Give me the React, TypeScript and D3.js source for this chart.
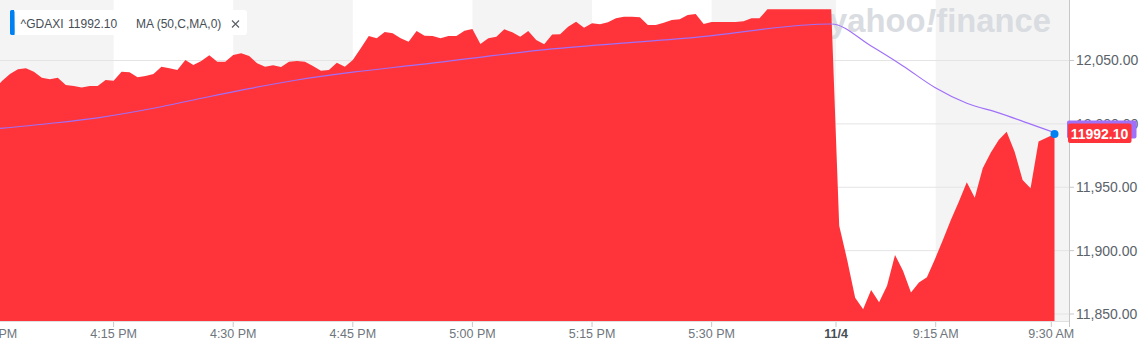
import * as d3 from 'd3';

// ^GDAXI closes, one point per minute-slot (3 Nov afternoon, then 4 Nov morning)
const pmCloses = [
  12026.7, 12033.8, 12039.4, 12043.1, 12043.8, 12041.2, 12036.4, 12035.2, 12036.4, 12030.7,
  12029.9, 12028.6, 12029.9, 12029.9, 12034.6, 12034.1, 12041.2, 12040.7, 12036.8, 12037.8,
  12039.4, 12045.1, 12043.8, 12042.5, 12050.4, 12046.5, 12049.6, 12054.1, 12049.1, 12049.1,
  12054.3, 12055.7, 12053.5, 12047.8, 12045.1, 12046.2, 12044.9, 12049.1, 12049.6, 12049.1,
  12045.7, 12042.0, 12042.5, 12048.3, 12045.1, 12050.4, 12059.6, 12069.3, 12067.5, 12072.5,
  12071.5, 12067.5, 12064.8, 12073.3, 12069.6, 12069.3, 12067.5, 12069.3, 12069.3, 12073.5,
  12074.8, 12063.0, 12067.5, 12068.8, 12074.6, 12072.2, 12068.8, 12073.3, 12066.2, 12062.8,
  12070.5, 12070.7, 12076.7, 12080.6, 12075.9, 12079.3, 12078.6, 12080.1, 12083.3, 12084.5,
  12084.5, 12084.1, 12078.0, 12078.0, 12079.8, 12081.9, 12082.5, 12085.9, 12086.7, 12078.8,
  12080.4, 12080.4, 12080.4, 12080.4, 12080.9, 12083.3, 12083.3, 12090.4, 12090.4, 12090.4,
  12090.4, 12090.4, 12090.4, 12090.4, 12090.4, 12090.4,
];
const amCloses = [
  11919.7, 11892.7, 11862.9, 11853.8, 11869.0, 11859.3, 11872.2, 11896.6, 11884.2, 11866.9,
  11874.8, 11879.0, 11893.2, 11908.4, 11924.2, 11938.6, 11953.9, 11941.8, 11965.0, 11977.3,
  11987.3, 11993.8, 11978.1, 11955.8, 11949.2, 11986.0, 11989.1, 11992.1,
];

// MA (50) read at a few slots
const maSlots = [0, 7, 13, 20, 26, 32, 38, 45, 53, 70, 88, 105, 110, 114, 118, 122, 126, 130, 133];
const maValues = [
  11996.0, 12000.3, 12004.8, 12012.3, 12020.2, 12027.8, 12034.6, 12040.8, 12046.5, 12059.1,
  12068.3, 12078.8, 12061.4, 12045.7, 12028.7, 12016.3, 12008.7, 11999.8, 11993.1,
];

const xTickSlots = [0, 15, 30, 45, 60, 75, 90, 105.6, 118.1, 132.6];
const xTickLabels = ['4:00 PM', '4:15 PM', '4:30 PM', '4:45 PM', '5:00 PM', '5:15 PM', '5:30 PM', '11/4', '9:15 AM', '9:30 AM'];
const yTicks = [11850, 11900, 11950, 12000, 12050];

const lastPrice = 11992.1;

const W = 1141;
const H = 351;
const plotRight = 1069;
const plotBottom = 321;
const font = '"Liberation Sans", Arial, sans-serif';

export default function App() {
  const closes = [...pmCloses, ...amCloses];
  const points = closes.map((v, i) => ({ i, v }));
  const ma = maSlots.map((s, k) => ({ i: s, v: maValues[k] }));

  const x = d3.scaleLinear().domain([0, closes.length - 1]).range([-6, 1054.5]);
  const y = d3.scaleLinear().domain([11850, 12050]).range([314, 60.5]);

  const area = d3.area<{ i: number; v: number }>()
    .x(d => x(d.i))
    .y0(plotBottom)
    .y1(d => y(d.v));

  const maLine = d3.line<{ i: number; v: number }>()
    .x(d => x(d.i))
    .y(d => y(d.v))
    .curve(d3.curveMonotoneX);

  const fmt = d3.format(',.2f');

  // alternating background bands between time ticks, the last one runs to the edge
  const bands: [number, number][] = [];
  for (let k = 0; k < xTickSlots.length - 1; k += 2) {
    const x0 = Math.max(0, x(xTickSlots[k]));
    const x1 = k + 2 >= xTickSlots.length - 1 ? plotRight : x(xTickSlots[k + 1]);
    bands.push([x0, x1]);
  }

  const lastX = x(closes.length - 1);
  const lastY = y(lastPrice);

  return (
    <svg width={W} height={H} style={{ position: 'absolute', left: 0, top: 0, background: '#fff' }} fontFamily={font}>
      <defs>
        <clipPath id="plot">
          <rect x={0} y={0} width={plotRight} height={plotBottom} />
        </clipPath>
      </defs>

      {bands.map(([a, b], k) => (
        <rect key={k} x={a} y={0} width={b - a} height={plotBottom} fill="#f4f4f4" />
      ))}

      {yTicks.map(t => (
        <line key={t} x1={0} x2={plotRight} y1={y(t)} y2={y(t)} stroke="#e4e4e4" strokeWidth={1} />
      ))}

      <text x={829} y={31.5} fontSize={33} fontWeight={700} fill="#d9dce1" textLength={222} lengthAdjust="spacingAndGlyphs">
        yahoo<tspan fontStyle="italic">!</tspan>finance
      </text>

      <g clipPath="url(#plot)">
        <path d={area(points) || ''} fill="#ff333a" />
        <path d={maLine(ma) || ''} fill="none" stroke="#a070f8" strokeWidth={1.2} />
      </g>

      {/* x axis */}
      <line x1={0} x2={plotRight} y1={plotBottom + 0.5} y2={plotBottom + 0.5} stroke="#e0e0e0" />
      {xTickSlots.map((s, k) => (
        <g key={k} transform={`translate(${x(s)},0)`}>
          <line y1={plotBottom + 1} y2={plotBottom + 6} stroke="#c8c8c8" />
          <text
            y={337.5}
            textAnchor="middle"
            fontSize={12.5}
            fontWeight={xTickLabels[k] === '11/4' ? 700 : 400}
            fill={xTickLabels[k] === '11/4' ? '#464e56' : '#6e757c'}
          >
            {xTickLabels[k]}
          </text>
        </g>
      ))}

      {/* y axis on the right */}
      <line x1={plotRight + 0.5} x2={plotRight + 0.5} y1={0} y2={plotBottom + 6} stroke="#c8c8c8" />
      {yTicks.map(t => (
        <g key={t} transform={`translate(0,${y(t)})`}>
          <line x1={plotRight + 1} x2={plotRight + 5} stroke="#c8c8c8" />
          <text x={1076} dy="0.35em" fontSize={14} fill="#5b636a">{fmt(t)}</text>
        </g>
      ))}

      <circle cx={lastX} cy={lastY} r={4} fill="#0081f2" />

      {/* legend */}
      <rect x={10} y={10} width={237} height={25} rx={3} fill="#fff" />
      <path d="M14,10 h-1 a3,3 0 0 0 -3,3 v19 a3,3 0 0 0 3,3 h1.5 z" fill="#0081f2" />
      <rect x={10} y={10} width={4.5} height={25} rx={2} fill="#0081f2" />
      <text x={20.5} y={28} fontSize={12} fill="#464e56">^GDAXI</text>
      <text x={68} y={28} fontSize={12} fill="#464e56">{lastPrice.toFixed(2)}</text>
      <text x={136} y={28} fontSize={12} fill="#464e56">MA (50,C,MA,0)</text>
      <path d="M232,20.5 L239,27.5 M239,20.5 L232,27.5" stroke="#5b636a" strokeWidth={1.2} />

      {/* last value labels */}
      <rect x={1067} y={120.5} width={69.5} height={18} rx={2} fill="#a070f8" />
      <rect x={1068} y={lastY - 10.5} width={63.5} height={19.5} rx={2} fill="#ff333a" />
      <text x={1099.5} y={lastY} dy="0.36em" textAnchor="middle" fontSize={14} fontWeight={700} fill="#fff">
        {lastPrice.toFixed(2)}
      </text>
    </svg>
  );
}
